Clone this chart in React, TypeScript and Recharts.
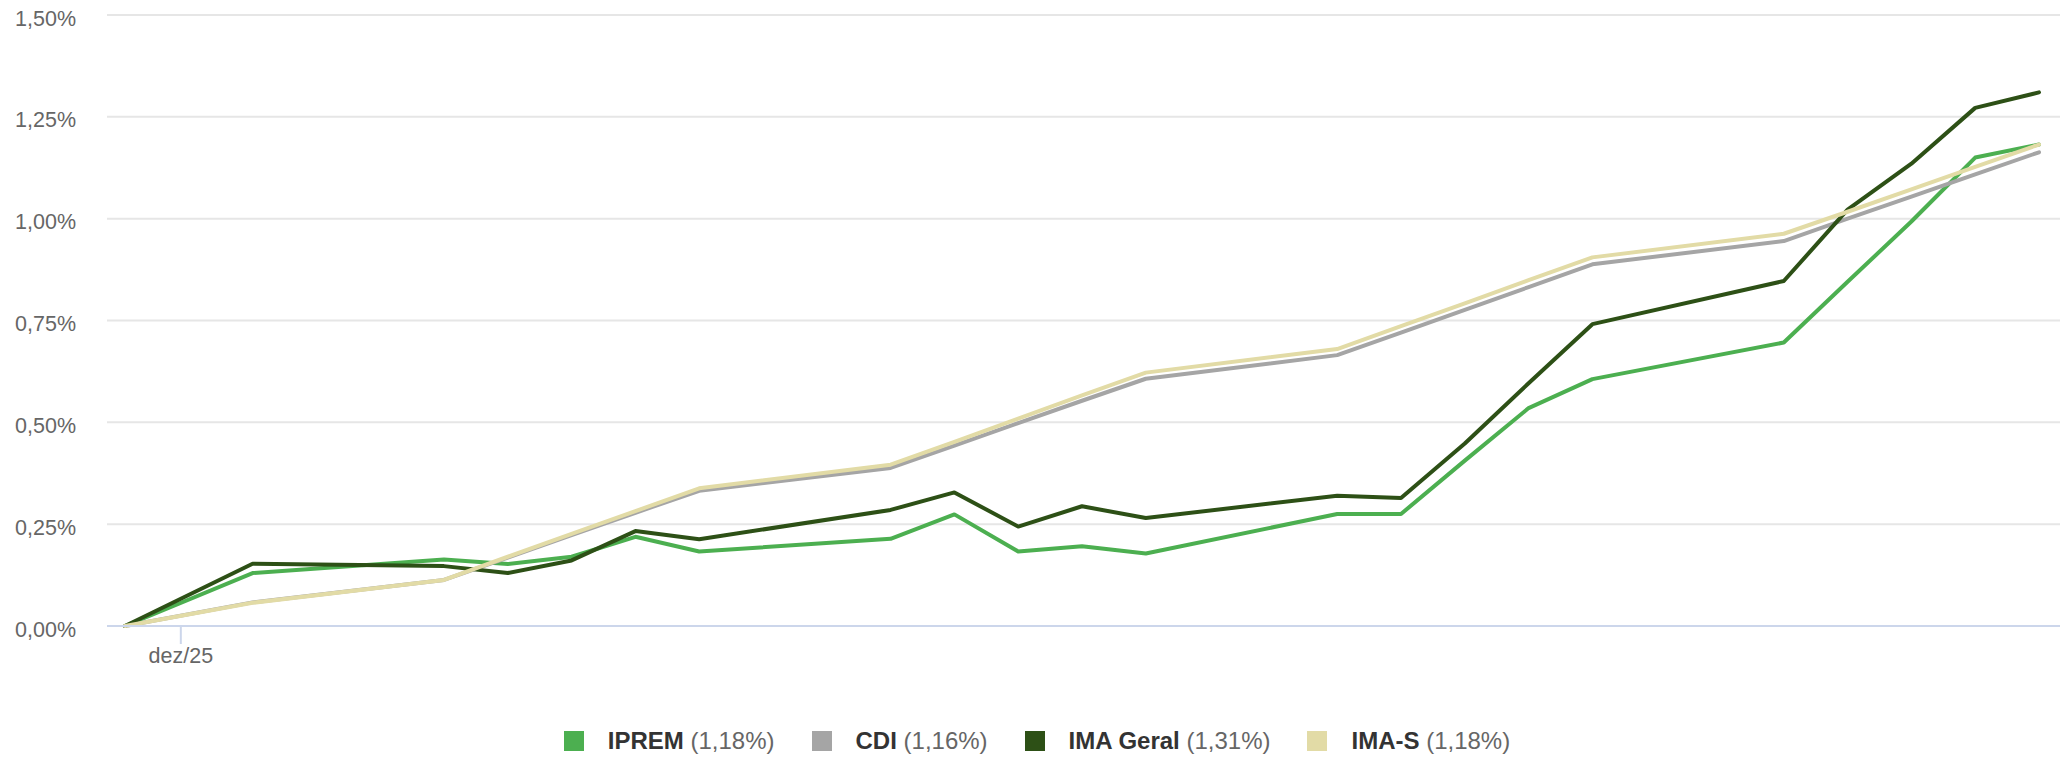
import { LineChart, Line, XAxis, YAxis, CartesianGrid, Legend } from 'recharts'

// business days of jan/26, first point is the 31/12 base
const DATES = [
  '2025-12-31', '2026-01-02', '2026-01-05', '2026-01-06', '2026-01-07', '2026-01-08', '2026-01-09',
  '2026-01-12', '2026-01-13', '2026-01-14', '2026-01-15', '2026-01-16',
  '2026-01-19', '2026-01-20', '2026-01-21', '2026-01-22', '2026-01-23',
  '2026-01-26', '2026-01-27', '2026-01-28', '2026-01-29', '2026-01-30',
]

const IPREM = [
  0, 0.13, 0.163, 0.152, 0.17, 0.219, 0.183, 0.214, 0.274, 0.183, 0.196, 0.178,
  0.275, 0.275, 0.406, 0.535, 0.606, 0.696, 0.845, 0.993, 1.15, 1.182,
]
const CDI = [
  0, 0.058, 0.113, 0.168, 0.223, 0.278, 0.332, 0.388, 0.443, 0.498, 0.553, 0.607,
  0.665, 0.72, 0.776, 0.832, 0.888, 0.945, 1.0, 1.054, 1.109, 1.163,
]
const IMA_GERAL = [
  0, 0.153, 0.147, 0.13, 0.161, 0.233, 0.213, 0.285, 0.328, 0.244, 0.294, 0.265,
  0.32, 0.314, 0.448, 0.596, 0.741, 0.847, 1.022, 1.135, 1.272, 1.31,
]
const IMA_S = [
  0, 0.057, 0.113, 0.17, 0.226, 0.282, 0.338, 0.396, 0.452, 0.509, 0.566, 0.622,
  0.68, 0.736, 0.792, 0.849, 0.905, 0.963, 1.017, 1.072, 1.127, 1.182,
]

const Y_TICKS = [0, 0.25, 0.5, 0.75, 1, 1.25, 1.5]
// month tick (UTC month start, shown in local time)
const X_TICKS = ['2026-01-01T00:00:00Z']
const X_TICK_LABELS = ['dez/25']

const SERIES = [
  { key: 'iprem', name: 'IPREM', values: IPREM, color: '#4caf50' },
  { key: 'cdi', name: 'CDI', values: CDI, color: '#a5a5a5' },
  { key: 'imaGeral', name: 'IMA Geral', values: IMA_GERAL, color: '#2d5016' },
  { key: 'imaS', name: 'IMA-S', values: IMA_S, color: '#e2dba6' },
]

const data = DATES.map((d, i) => {
  const row: any = { t: Date.parse(d + 'T03:00:00Z') }
  SERIES.forEach(s => { row[s.key] = s.values[i] })
  return row
})

const xTicks = X_TICKS.map(t => Date.parse(t))

const fmtPct = (v: number) => v.toFixed(2).replace('.', ',') + '%'

const FONT = 'Arial, "Liberation Sans", Helvetica, sans-serif'

const renderLegend = () => (
  <div
    style={{
      height: 60,
      boxSizing: 'border-box',
      paddingTop: 23,
      paddingLeft: 14,
      display: 'flex',
      justifyContent: 'center',
      alignItems: 'center',
      fontFamily: FONT,
      fontSize: 24,
    }}
  >
    {SERIES.map((s, i) => (
      <div key={s.key} style={{ display: 'flex', alignItems: 'center', marginLeft: i === 0 ? 0 : 37 }}>
        <span style={{ width: 20, height: 20, background: s.color, display: 'inline-block', marginRight: 24 }} />
        <span style={{ color: '#333333', fontWeight: 'bold', whiteSpace: 'pre' }}>{s.name} </span>
        <span style={{ color: '#666666' }}>({fmtPct(s.values[s.values.length - 1])})</span>
      </div>
    ))}
  </div>
)

export default function App() {
  return (
    <div style={{ position: 'absolute', left: 0, top: 0, background: '#fff' }}>
      <LineChart width={2069} height={759} data={data} margin={{ top: 15, right: 9, left: 0, bottom: 0 }}>
        <CartesianGrid vertical={false} stroke="#e6e6e6" strokeWidth={2} />
        <XAxis
          dataKey="t"
          type="number"
          domain={['dataMin', 'dataMax']}
          padding={{ left: 18, right: 21 }}
          ticks={xTicks}
          tickFormatter={(v: number) => X_TICK_LABELS[xTicks.indexOf(v)] ?? ''}
          height={73}
          tickSize={18}
          tickMargin={4}
          axisLine={{ stroke: '#ccd6eb', strokeWidth: 2 }}
          tickLine={{ stroke: '#ccd6eb', strokeWidth: 2 }}
          tick={{ fill: '#666666', fontSize: 21.5, fontFamily: FONT }}
        />
        <YAxis
          domain={[0, 1.5]}
          ticks={Y_TICKS}
          tickFormatter={fmtPct}
          width={107}
          tickSize={0}
          tickMargin={31}
          axisLine={false}
          tickLine={false}
          tick={{ fill: '#666666', fontSize: 21.5, fontFamily: FONT, dy: 3 }}
        />
        <Legend verticalAlign="bottom" height={60} content={renderLegend} />
        {SERIES.map(s => (
          <Line
            key={s.key}
            type="linear"
            dataKey={s.key}
            name={s.name}
            stroke={s.color}
            strokeWidth={4}
            strokeLinejoin="round"
            strokeLinecap="round"
            dot={false}
            activeDot={false}
            isAnimationActive={false}
          />
        ))}
      </LineChart>
    </div>
  )
}
